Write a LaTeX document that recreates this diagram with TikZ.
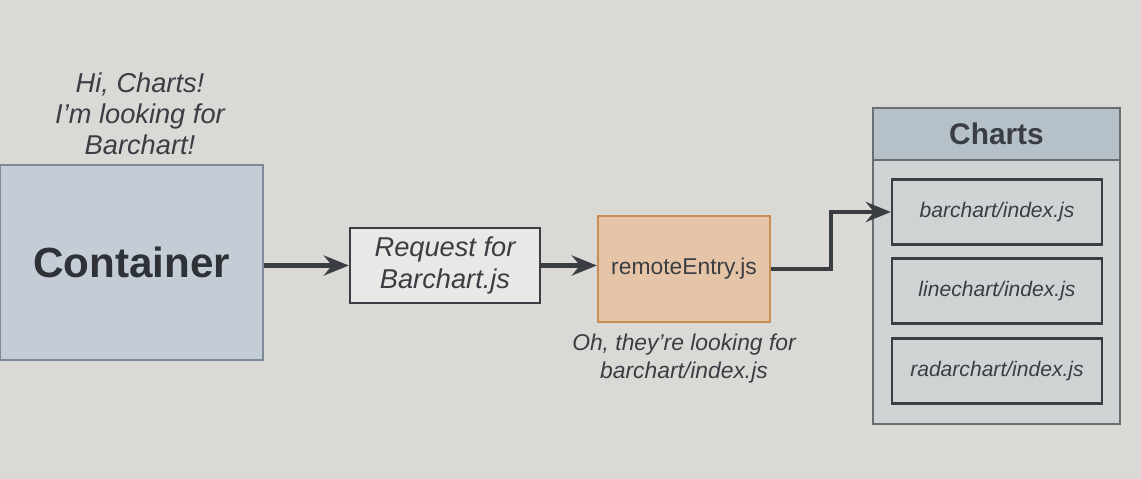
\documentclass[tikz,border=0pt]{standalone}
\usepackage{fontspec}
\setmainfont{Liberation Sans}
\usetikzlibrary{arrows.meta, positioning}
\definecolor{bgpaper}{RGB}{218,217,214}
\definecolor{linkgray}{RGB}{58,62,67}
\definecolor{contfill}{RGB}{196,204,214}
\definecolor{contline}{RGB}{125,138,153}
\definecolor{remfill}{RGB}{230,196,167}
\definecolor{remline}{RGB}{200,140,85}
\definecolor{headfill}{RGB}{182,192,201}
\definecolor{bodyfill}{RGB}{208,211,212}
\definecolor{panelline}{RGB}{105,110,116}
\begin{document}
\begin{tikzpicture}[>={Stealth[length=5mm, width=4mm]},
	box/.style={draw=linkgray, line width=1.3pt, inner sep=0pt, align=center},
	link/.style={->, line width=2.4pt, linkgray}]
			\fill[bgpaper] (0, 0) rectangle (22.82, -9.58);
			\useasboundingbox (0, 0) rectangle (22.82, -9.58);
			\node[align=center, font=\itshape\fontsize{15.5}{17.5}\selectfont, text=linkgray] (hi) at (2.8, -2.28) {Hi, Charts!\\I'm looking for\\Barchart!};
			\node[box, draw=contline, fill=contfill, minimum width=5.26cm, minimum height=3.9cm, font=\bfseries\fontsize{24}{28}\selectfont, text=linkgray!80!black] (cont) at (2.63, -5.25) {Container};
			\node[box, fill=bgpaper!60!white, minimum width=3.8cm, minimum height=1.5cm, font=\itshape\fontsize{15.5}{18}\selectfont, text=linkgray] (req) at (8.9, -5.31) {Request for\\Barchart.js};
			\node[box, draw=remline, fill=remfill, minimum width=3.44cm, minimum height=2.12cm, font=\fontsize{13}{15}\selectfont, text=linkgray] (rem) at (13.68, -5.38) {remoteEntry.js};
			\node[align=center, font=\itshape\fontsize{13}{15.5}\selectfont, text=linkgray, below=1mm of rem] (oh) {Oh, they're looking for\\barchart/index.js};
			\node[draw=panelline, line width=1.2pt, fill=bodyfill, minimum width=4.94cm, minimum height=6.32cm] (charts) at (19.93, -5.32) {};
			\node[draw=panelline, line width=1.2pt, fill=headfill, minimum width=4.94cm, minimum height=1.04cm, anchor=north, font=\bfseries\fontsize{17}{20}\selectfont, text=linkgray] (head) at (charts.north) {Charts};
			\node[box, minimum width=4.2cm, minimum height=1.3cm, font=\itshape\fontsize{12}{14}\selectfont, text=linkgray] (bar) at (19.94, -4.24) {barchart/index.js};
			\node[box, minimum width=4.2cm, minimum height=1.3cm, font=\itshape\fontsize{12}{14}\selectfont, text=linkgray] (line) at (19.94, -5.82) {linechart/index.js};
			\node[box, minimum width=4.2cm, minimum height=1.3cm, font=\itshape\fontsize{12}{14}\selectfont, text=linkgray] (radar) at (19.94, -7.42) {radarchart/index.js};
			\draw[link] (cont.east |- req) -- (req.west);
			\draw[link] (req.east) -- (rem.west |- req.east);
			\draw[link] (rem.east) -- ++(1.2, 0) |- (bar.west);
		\end{tikzpicture}
\end{document}
